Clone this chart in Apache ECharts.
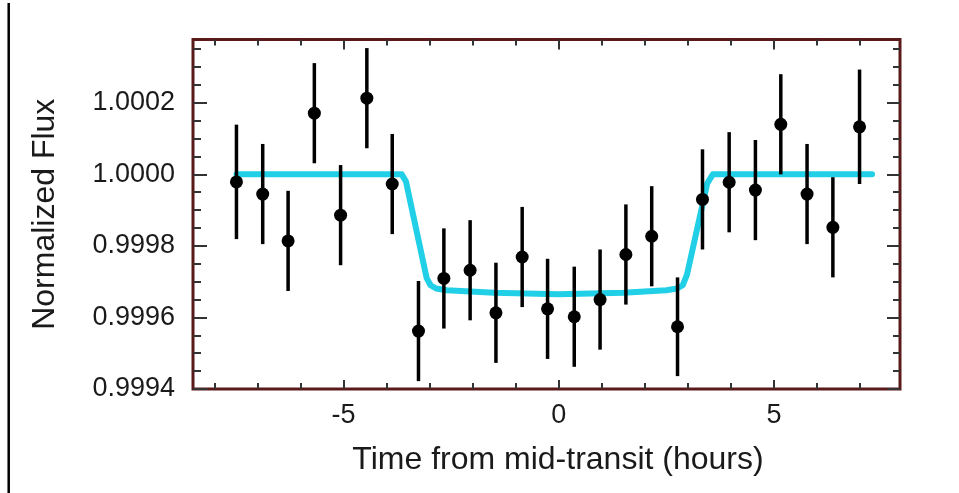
<!DOCTYPE html>
<html>
<head>
<meta charset="utf-8">
<title>Transit light curve</title>
<script src="https://cdn.jsdelivr.net/npm/echarts@6/dist/echarts.min.js"></script>
<style>
  html, body { margin: 0; padding: 0; background: #fff; }
  #chart { width: 959px; height: 493px; }
</style>
</head>
<body>
<div id="chart"></div>
<script>
// binned photometry (time in hours, normalized flux, 1-sigma error)
const timeHours = [-7.49, -6.88, -6.29, -5.68, -5.07, -4.46, -3.87, -3.26, -2.67, -2.06, -1.46, -0.85, -0.26,
                   0.36, 0.96, 1.56, 2.16, 2.76, 3.34, 3.96, 4.57, 5.16, 5.77, 6.37, 6.99]
const flux = [0.999979, 0.999945, 0.999814, 1.000171, 0.999886, 1.000213, 0.999973, 0.999562, 0.999709,
              0.999732, 0.999613, 0.999769, 0.999624, 0.999602, 0.999650, 0.999776, 0.999827, 0.999574,
              0.999930, 0.999978, 0.999956, 1.000140, 0.999945, 0.999852, 1.000133]
const fluxErr = [0.00016, 0.00014, 0.00014, 0.00014, 0.00014, 0.00014, 0.00014, 0.00014, 0.00014,
                 0.00014, 0.00014, 0.00014, 0.00014, 0.00014, 0.00014, 0.00014, 0.00014, 0.000138,
                 0.00014, 0.00014, 0.00014, 0.00014, 0.00014, 0.00014, 0.00016]

// transit model curve
const modelX = [-7.49, -3.65, -3.55, -3.07, -2.98, -2.85, -2.6, -1.5, 0, 1.5, 2.5, 2.75, 2.88, 2.98, 3.45, 3.58, 7.28]
const modelY = [1.0, 1.0, 0.99998, 0.99971, 0.99969, 0.999681, 0.999676, 0.999669, 0.999665, 0.999669,
                0.999676, 0.999681, 0.99969, 0.99972, 0.999975, 1.0, 1.0]

// axis ticks and labels
const xMajor = [-5, 0, 5]
const xMinor = [-8, -7, -6, -4, -3, -2, -1, 1, 2, 3, 4, 6, 7]
const yMajor = [0.9994, 0.9996, 0.9998, 1.0, 1.0002]
const yMinor = [0.99945, 0.9995, 0.99955, 0.99965, 0.9997, 0.99975, 0.99985, 0.9999, 0.99995,
                1.00005, 1.0001, 1.00015, 1.00025, 1.0003, 1.00035]

const X_MIN = -8.5, X_MAX = 7.93
const Y_MIN = 0.9994, Y_MAX = 1.000377

const font = '"Liberation Sans", Arial, Helvetica, sans-serif'
const frameColor = '#5a1a1a'
const tickColor = '#333'

const myChart = echarts.init(document.getElementById('chart'), null, { renderer: 'canvas' })

function xAx(pos, ticks, len, withLabel) {
    return {
        type: 'value', position: pos, min: X_MIN, max: X_MAX,
        axisLine: { show: false, onZero: false },
        splitLine: { show: false },
        axisTick: { show: true, inside: true, length: len, customValues: ticks,
            lineStyle: { color: tickColor, width: 2 } },
        axisLabel: withLabel ? {
            show: true, customValues: xMajor, margin: 13,
            fontSize: 27, fontFamily: font, color: '#1a1a1a'
        } : { show: false },
        name: withLabel ? 'Time from mid-transit (hours)' : '',
        nameLocation: 'middle', nameGap: 55,
        nameTextStyle: { fontSize: 32, fontFamily: font, color: '#1a1a1a', padding: [0, 0, 0, 23] }
    }
}

function yAx(pos, ticks, len, withLabel) {
    return {
        type: 'value', position: pos, min: Y_MIN, max: Y_MAX,
        axisLine: { show: false, onZero: false },
        splitLine: { show: false },
        axisTick: { show: true, inside: true, length: len, customValues: ticks,
            lineStyle: { color: tickColor, width: 2 } },
        axisLabel: withLabel ? {
            show: true, customValues: yMajor, margin: 18,
            fontSize: 27, fontFamily: font, color: '#1a1a1a',
            formatter: v => v.toFixed(4)
        } : { show: false },
        name: withLabel ? 'Normalized Flux' : '',
        nameLocation: 'middle', nameGap: 132,
        nameTextStyle: { fontSize: 32, fontFamily: font, color: '#1a1a1a' }
    }
}

const points = timeHours.map((t, i) => [t, flux[i], fluxErr[i]])
const model = modelX.map((t, i) => [t, modelY[i]])

const option = {
    backgroundColor: '#fff',
    animation: false,
    grid: {
        left: 193, right: 59, top: 39.5, bottom: 104,
        show: true, borderColor: frameColor, borderWidth: 3, backgroundColor: '#fff'
    },
    xAxis: [
        xAx('bottom', xMajor, 9, true),
        xAx('bottom', xMinor, 6, false),
        xAx('top', xMajor, 10, false),
        xAx('top', xMinor, 6, false)
    ],
    yAxis: [
        yAx('left', yMajor, 14, true),
        yAx('left', yMinor, 8, false),
        yAx('right', yMajor, 13, false),
        yAx('right', yMinor, 7, false)
    ],
    graphic: [{
        type: 'line', silent: true,
        shape: { x1: 8.7, y1: 3, x2: 8.7, y2: 493 },
        style: { stroke: '#000', lineWidth: 2.5 }
    }],
    series: [
        {
            type: 'line',
            data: model,
            showSymbol: false,
            z: 2,
            lineStyle: { color: '#21cfe6', width: 6, cap: 'round', join: 'round' }
        },
        {
            // error bars
            type: 'custom',
            data: points,
            z: 3,
            renderItem: function (params, api) {
                const x = api.value(0), y = api.value(1), e = api.value(2)
                const lo = api.coord([x, y - e])
                const hi = api.coord([x, y + e])
                return {
                    type: 'line',
                    shape: { x1: lo[0], y1: lo[1], x2: hi[0], y2: hi[1] },
                    style: { stroke: '#000', lineWidth: 3.5 }
                }
            }
        },
        {
            type: 'scatter',
            data: points,
            symbol: 'circle',
            symbolSize: 13,
            z: 4,
            itemStyle: { color: '#000', opacity: 1 }
        }
    ]
}
myChart.setOption(option)
</script>
</body>
</html>
